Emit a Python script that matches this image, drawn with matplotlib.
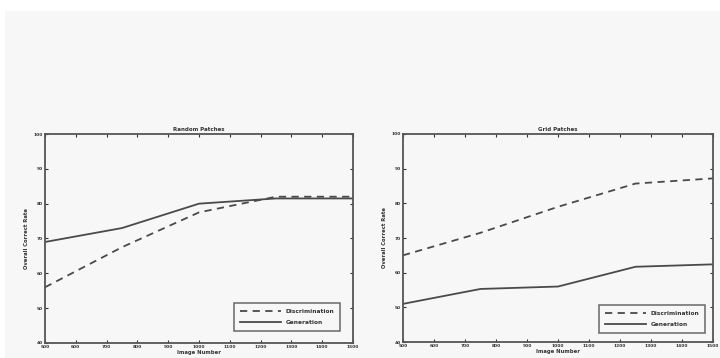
import matplotlib
matplotlib.use('Agg')
import matplotlib.pyplot as plt

image_number = [500, 750, 1000, 1250, 1500]

# Random Patches
random_disc = [56, 67.5, 77.5, 82, 82]
random_gen = [69, 73, 80, 81.5, 81.5]

# Grid Patches
grid_disc = [65, 71.5, 79, 85.7, 87.2]
grid_gen = [51, 55.3, 56, 61.7, 62.4]

x_ticks = list(range(500, 1501, 100))
y_ticks = list(range(40, 101, 10))

panels = [
    ('Random Patches', random_disc, random_gen),
    ('Grid Patches', grid_disc, grid_gen),
]

BG = '#f7f7f7'
INK = '#333333'

fig = plt.figure(figsize=(7.2, 3.58), dpi=100, facecolor='white')
# scanned page background
fig.patches.append(plt.Rectangle((5 / 720, 0), 1, 1 - 11 / 358, transform=fig.transFigure,
                                 facecolor=BG, edgecolor='none', zorder=-10))

boxes = [(45, 353, 343), (403, 713, 342)]
legend_anchor = [(0.958, 0.059), (0.974, 0.043)]
top = 134
for (title, disc, gen), (x0, x1, bottom), anchor in zip(panels, boxes, legend_anchor):
    ax = fig.add_axes([x0 / 720, 1 - bottom / 358, (x1 - x0) / 720, (bottom - top) / 358])
    ax.set_facecolor(BG)
    ax.plot(image_number, disc, linestyle=(0, (4, 3)), color='#4a4a4a', linewidth=1.3,
            label='Discrimination')
    ax.plot(image_number, gen, linestyle='-', color='#4a4a4a', linewidth=1.3,
            label='Generation')
    ax.set_xlim(500, 1500)
    ax.set_ylim(40, 100)
    ax.set_xticks(x_ticks)
    ax.set_yticks(y_ticks)
    ax.tick_params(direction='in', top=True, right=True, length=2.5, width=0.8,
                   labelsize=3.2, pad=1.5, colors=INK)
    for lab in ax.get_xticklabels() + ax.get_yticklabels():
        lab.set_fontweight('bold')
    for sp in ax.spines.values():
        sp.set_color('#555555')
        sp.set_linewidth(1.3)
    ax.set_title(title, fontsize=4, fontweight='bold', color=INK, pad=2)
    ax.set_xlabel('Image Number', fontsize=3.8, fontweight='bold', color=INK, labelpad=0.5)
    ax.set_ylabel('Overall Correct Rate', fontsize=3.8, fontweight='bold', color=INK, labelpad=3)
    leg = ax.legend(loc='lower right', bbox_to_anchor=anchor, borderaxespad=0,
                    frameon=True, fancybox=False, handlelength=7, handletextpad=0.8,
                    borderpad=1.0, labelspacing=1.0,
                    prop={'weight': 'bold', 'size': 4.2})
    leg.get_frame().set_edgecolor('#444444')
    leg.get_frame().set_linewidth(1.1)
    leg.get_frame().set_facecolor(BG)
    for t in leg.get_texts():
        t.set_color(INK)

fig.savefig('out.png', dpi=100, facecolor='white')
